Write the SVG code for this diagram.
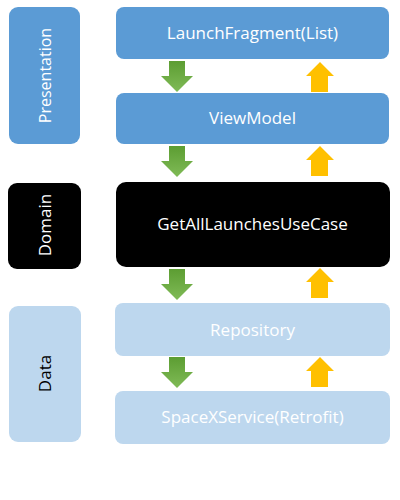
<svg xmlns="http://www.w3.org/2000/svg" width="400" height="500" viewBox="0 0 400 500">
<defs>
<style>
.t{font-family:"Open Sans","Noto Sans","DejaVu Sans",sans-serif;font-size:17px;text-anchor:middle;fill:#fff}
.dark{fill:#5b9bd5}
.light{fill:#bdd7ee}
.blk{fill:#000}
.up{fill:#ffc000}
.down{fill:url(#g)}
</style>
<linearGradient id="g" x1="0" y1="0" x2="0" y2="1">
<stop offset="0" stop-color="#5c9d32"/>
<stop offset="1" stop-color="#80bb57"/>
</linearGradient>
<path id="dn" d="M169,0 H185 V15 H193 L177,31 L161,15 H169 Z"/>
<path id="upa" d="M320,0 L334,14 H328 V30 H311 V14 H306 Z"/>
</defs>
<rect width="400" height="500" fill="#fff"/>
<g id="layer-presentation">
<rect class="dark" x="9" y="7" width="71" height="137" rx="9"/>
<text class="t" style="font-size:16px" transform="translate(51,75.5) rotate(-90)">Presentation</text>
</g>
<g id="layer-domain">
<rect class="blk" x="8" y="183" width="73" height="86" rx="9"/>
<text class="t" transform="translate(51,225) rotate(-90)">Domain</text>
</g>
<g id="layer-data">
<rect class="light" x="9" y="306" width="72" height="136" rx="9"/>
<text class="t" style="fill:#000" transform="translate(51,373.5) rotate(-90)">Data</text>
</g>
<g id="launchfragment">
<rect class="dark" x="116" y="7" width="273" height="52" rx="8"/>
<text class="t" x="252.5" y="39">LaunchFragment(List)</text>
</g>
<g id="viewmodel">
<rect class="dark" x="116" y="93" width="273" height="51" rx="8"/>
<text class="t" x="252.5" y="124">ViewModel</text>
</g>
<g id="usecase">
<rect class="blk" x="116" y="182" width="274" height="85" rx="10"/>
<text class="t" x="252.5" y="230">GetAllLaunchesUseCase</text>
</g>
<g id="repository">
<rect class="light" x="115" y="303" width="275" height="53" rx="8"/>
<text class="t" x="252.5" y="336">Repository</text>
</g>
<g id="spacexservice">
<rect class="light" x="115" y="391" width="275" height="53" rx="8"/>
<text class="t" x="252.5" y="423">SpaceXService(Retrofit)</text>
</g>
<g id="connectors">
<use href="#dn" class="down" y="61"/>
<use href="#dn" class="down" y="146"/>
<use href="#dn" class="down" y="269"/>
<use href="#dn" class="down" y="357"/>
<use href="#upa" class="up" y="62"/>
<use href="#upa" class="up" y="146"/>
<use href="#upa" class="up" y="268"/>
<use href="#upa" class="up" y="357"/>
</g>
</svg>
